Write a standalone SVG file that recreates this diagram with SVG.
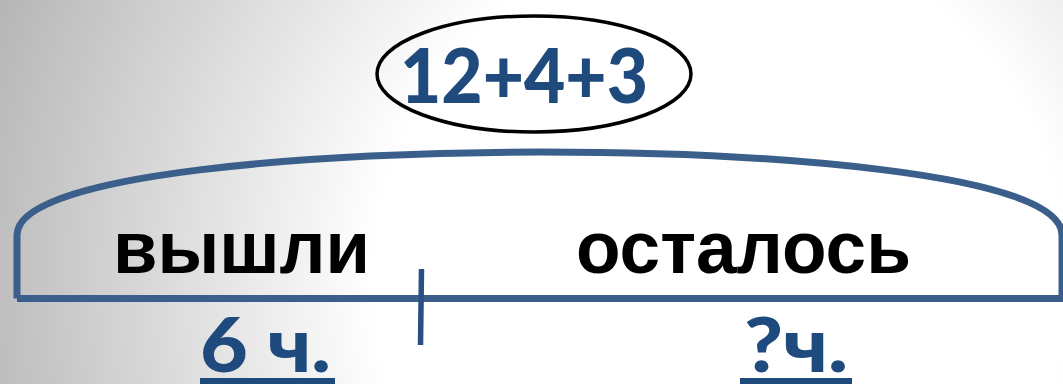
<svg xmlns="http://www.w3.org/2000/svg" width="1063" height="384" viewBox="0 0 1063 384">
  <defs>
    <radialGradient id="bg" gradientUnits="userSpaceOnUse" cx="720" cy="280" r="770">
      <stop offset="0" stop-color="#ffffff"/>
      <stop offset="0.45" stop-color="#ffffff"/>
      <stop offset="1" stop-color="#b6b6b6"/>
    </radialGradient>
    <style>
      .word { font-family: "Liberation Sans", Arial, sans-serif; font-weight: bold; font-size: 74px; fill: #000; }
      .blue { font-family: Lato, "Open Sans", sans-serif; font-weight: 900; fill: #1f4a7d; }
      .frame { fill: none; stroke: #3a5f8b; stroke-width: 7; }
    </style>
  </defs>
  <rect width="1063" height="384" fill="url(#bg)"/>

  <g id="connectors">
    <path class="frame" d="M 17,298.5 V 235 C 17,172 330,152 540,152 C 760,152 1062,172 1062,235 V 298.5 M 17,298.5 H 1063"/>
    <line x1="421.5" y1="269" x2="420.5" y2="345" stroke="#2a4f82" stroke-width="5.5"/>
  </g>

  <g id="node-sum">
    <ellipse cx="534" cy="74" rx="157" ry="58" fill="none" stroke="#000" stroke-width="3.5"/>
    <text class="blue" x="400" y="103" font-size="77" textLength="248" lengthAdjust="spacingAndGlyphs">12+4+3</text>
  </g>

  <g id="node-left">
    <text class="word" x="113" y="273" textLength="257" lengthAdjust="spacingAndGlyphs">вышли</text>
    <text class="blue" x="200" y="372" font-size="76" textLength="131" lengthAdjust="spacingAndGlyphs">6 ч.</text>
    <rect x="200" y="378" width="135" height="6" fill="#1f4a7d"/>
  </g>

  <g id="node-right">
    <text class="word" x="576" y="273" textLength="335" lengthAdjust="spacingAndGlyphs">осталось</text>
    <text class="blue" x="744" y="372" font-size="76" textLength="104" lengthAdjust="spacingAndGlyphs">?ч.</text>
    <rect x="740" y="378" width="112" height="6" fill="#1f4a7d"/>
  </g>
</svg>
